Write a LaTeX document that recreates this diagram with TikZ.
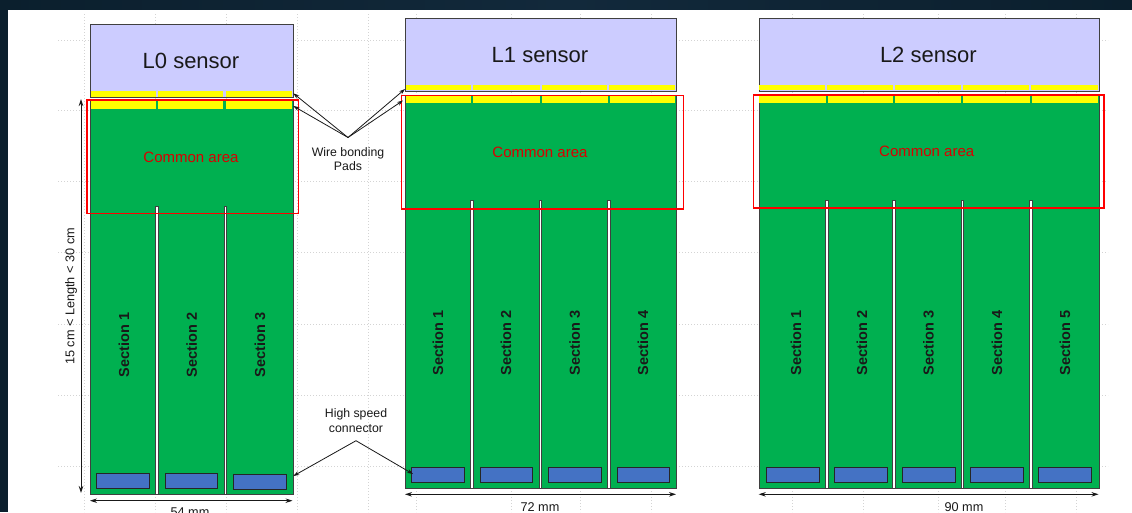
\documentclass[tikz,border=0pt]{standalone}
\usepackage{fontspec}
\setmainfont{Liberation Sans}
\usetikzlibrary{arrows.meta}
\definecolor{frame}{HTML}{0B1F2D}
\definecolor{framelight}{HTML}{12293B}
\definecolor{sensorfill}{HTML}{CCCCFF}
\definecolor{boardgreen}{HTML}{00B050}
\definecolor{padyellow}{HTML}{FFFF00}
\definecolor{connblue}{HTML}{4472C4}
\definecolor{gridgray}{HTML}{D4D4D4}
\definecolor{edgegray}{HTML}{404040}
\tikzset{
  sensorbox/.style={fill=sensorfill, draw=edgegray, line width=1.1pt},
  boardbox/.style={fill=boardgreen, draw=edgegray, line width=1pt},
  padbox/.style={fill=padyellow, draw=none},
  slotbox/.style={fill=white, draw=edgegray, line width=0.5pt},
  connbox/.style={fill=connblue, draw=black!85, line width=0.9pt},
  redbox/.style={draw=red, line width=1.6pt},
  gridline/.style={draw=gridgray, line width=0.6pt, dash pattern=on 1pt off 2pt},
  sensortext/.style={font=\fontsize{22}{26}\selectfont, text=black!90},
  commontext/.style={font=\fontsize{15}{18}\selectfont, text=red!85!black},
  sectext/.style={font=\fontsize{14.5}{17}\selectfont\bfseries, rotate=90, text=black!90},
  labeltext/.style={font=\fontsize{12.3}{14.5}\selectfont, align=center, text=black!90},
  dimtext/.style={font=\fontsize{12.7}{15}\selectfont, text=black!90},
  callout/.style={draw=black!90, line width=0.8pt, -{Stealth[length=6pt,width=4pt]}},
  dimarrow/.style={draw=black!90, line width=0.9pt, {Stealth[length=7pt,width=4.5pt]}-{Stealth[length=7pt,width=4.5pt]}},
}
\begin{document}
\begin{tikzpicture}[x=1pt, y=-1pt]
\useasboundingbox (0,0) rectangle (1132,512);
\fill[white] (0,0) rectangle (1132,512);
% dark frame
\shade[left color=frame, right color=frame, middle color=framelight] (0,0) rectangle (1132,9);
\fill[frame] (0,0) rectangle (8,512);
% faint grid
\foreach \yy in {40,110,181,252,324,395,466}
  \draw[gridline] (58,\yy) -- (1108,\yy);
\foreach \xx in {84,155,226,297,368,416.7,511.7,580.7,651,792.7,863.3,938.3,1005.7,1076.7}
  \draw[gridline] (\xx,14) -- (\xx,512);

% ================= L0 =================
\node[sensorbox, minimum width=202.5pt, minimum height=73pt, anchor=north west, inner sep=0pt] (s0) at (90,24) {};
\foreach \a/\b in {90.7/155.7,158/223.3,226/292}
  \fill[padyellow] (\a,90.7) rectangle (\b,96.5);
\node[boardbox, minimum width=202.5pt, minimum height=394pt, anchor=north west, inner sep=0pt] (b0) at (90,100) {};
\foreach \a/\b in {90.6/155.7,158/223.3,226/292}
  \fill[padyellow] (\a,100.8) rectangle (\b,108.7);
\foreach \xx in {156.8,225.2}
  \draw[slotbox] (\xx-1.4,206) rectangle (\xx+1.4,494.5);
\foreach \a/\b/\t/\bb [count=\i] in {96.7/149/473/488,165.7/217.7/473/488,233/286/474/489}
  \draw[connbox] (\a,\t) rectangle (\b,\bb) coordinate (c0\i);
\node[redbox, minimum width=211.7pt, minimum height=113.4pt, anchor=north west, inner sep=0pt] (r0) at (86,99.3) {};
\node[sensortext] (t0) at (191,61) {L0 sensor};
\node[commontext] (ca0) at (191,157) {Common area};
\foreach \xx/\n in {124/1,191.7/2,260/3}
  \node[sectext] (sec0\n) at (\xx,345) {Section \n};
% dimensions
\coordinate (v0top) at (81,99);
\coordinate (v0bot) at (81,493);
\draw[dimarrow] (v0top) -- (v0bot);
\node[dimtext, rotate=90] (len) at (71,296.5) {15 cm < Length < 30 cm};
\coordinate (h0l) at (90,500.7);
\coordinate (h0r) at (292.5,500.7);
\draw[dimarrow] (h0l) -- (h0r);
\node[dimtext] (w0) at (190,512) {54 mm};

% ================= L1 =================
\node[sensorbox, minimum width=270.7pt, minimum height=72.7pt, anchor=north west, inner sep=0pt] (s1) at (405,18) {};
\foreach \a/\b in {405.6/471.3,473.3/539.7,541.7/607.3,609.3/675.2}
  \fill[padyellow] (\a,85.3) rectangle (\b,90.2);
\node[boardbox, minimum width=270.7pt, minimum height=392.7pt, anchor=north west, inner sep=0pt] (b1) at (405,95) {};
\foreach \a/\b in {405.6/470.7,472.7/539.7,541.7/608,610/675.2}
  \fill[padyellow] (\a,96) rectangle (\b,102.7);
\foreach \xx in {471.7,540.3,609}
  \draw[slotbox] (\xx-1.4,200.3) rectangle (\xx+1.4,488.2);
\foreach \a/\b [count=\i] in {411.7/464.3,480/532.7,548.7/601.3,617.3/669.3}
  \draw[connbox] (\a,467.7) coordinate (c1\i) rectangle (\b,482.3);
\node[redbox, minimum width=282pt, minimum height=113.3pt, anchor=north west, inner sep=0pt] (r1) at (400.7,94.7) {};
\node[sensortext] (t1) at (540,55) {L1 sensor};
\node[commontext] (ca1) at (540,152) {Common area};
\foreach \xx/\n in {438/1,506/2,574.7/3,643/4}
  \node[sectext] (sec1\n) at (\xx,343) {Section \n};
\coordinate (h1l) at (405,494.3);
\coordinate (h1r) at (676,494.3);
\draw[dimarrow] (h1l) -- (h1r);
\node[dimtext] (w1) at (540,506.7) {72 mm};

% ================= L2 =================
\node[sensorbox, minimum width=340pt, minimum height=72.7pt, anchor=north west, inner sep=0pt] (s2) at (758.7,18) {};
\foreach \a/\b in {759.3/825,827/893.3,895.3/961,963/1029,1031/1098.1}
  \fill[padyellow] (\a,85.3) rectangle (\b,90.2);
\node[boardbox, minimum width=340pt, minimum height=392.7pt, anchor=north west, inner sep=0pt] (b2) at (758.7,95) {};
\foreach \a/\b in {759.3/825.7,827.7/893,895/961.3,963.3/1029.7,1031.7/1098.1}
  \fill[padyellow] (\a,96) rectangle (\b,102.7);
\foreach \xx in {826.7,894,962.3,1030.7}
  \draw[slotbox] (\xx-1.4,200.7) rectangle (\xx+1.4,488.2);
\foreach \a/\b [count=\i] in {766/819.3,834.3/887.7,902.3/955,970.3/1023.7,1038.3/1091.7}
  \draw[connbox] (\a,467.3) rectangle (\b,482.7);
\node[redbox, minimum width=350.6pt, minimum height=113pt, anchor=north west, inner sep=0pt] (r2) at (752.7,94.3) {};
\node[sensortext] (t2) at (928.3,55) {L2 sensor};
\node[commontext] (ca2) at (926.7,151) {Common area};
\foreach \xx/\n in {796/1,862/2,928.5/3,997/4,1065/5}
  \node[sectext] (sec2\n) at (\xx,343) {Section \n};
\coordinate (h2l) at (758.7,494.3);
\coordinate (h2r) at (1098.5,494.3);
\draw[dimarrow] (h2l) -- (h2r);
\node[dimtext] (w2) at (964,507) {90 mm};

% ================= callouts =================
\node[labeltext] (wb) at (348,159) {Wire bonding\\Pads};
\coordinate (wbsrc) at (348,137.5);
\coordinate (wb0a) at (293.3,93.3);
\coordinate (wb0b) at (293.3,106);
\coordinate (wb1a) at (405,89);
\coordinate (wb1b) at (403,100.5);
\foreach \tgt in {wb0a,wb0b,wb1a,wb1b}
  \draw[callout] (wbsrc) -- (\tgt);

\node[labeltext, font=\fontsize{12.3}{15}\selectfont] (hs) at (356,421) {High speed\\connector};
\coordinate (hssrc) at (356,440.7);
\coordinate (hs0) at (293.3,476);
\coordinate (hs1) at (413,474);
\foreach \tgt in {hs0,hs1}
  \draw[callout] (hssrc) -- (\tgt);
\end{tikzpicture}
\end{document}
